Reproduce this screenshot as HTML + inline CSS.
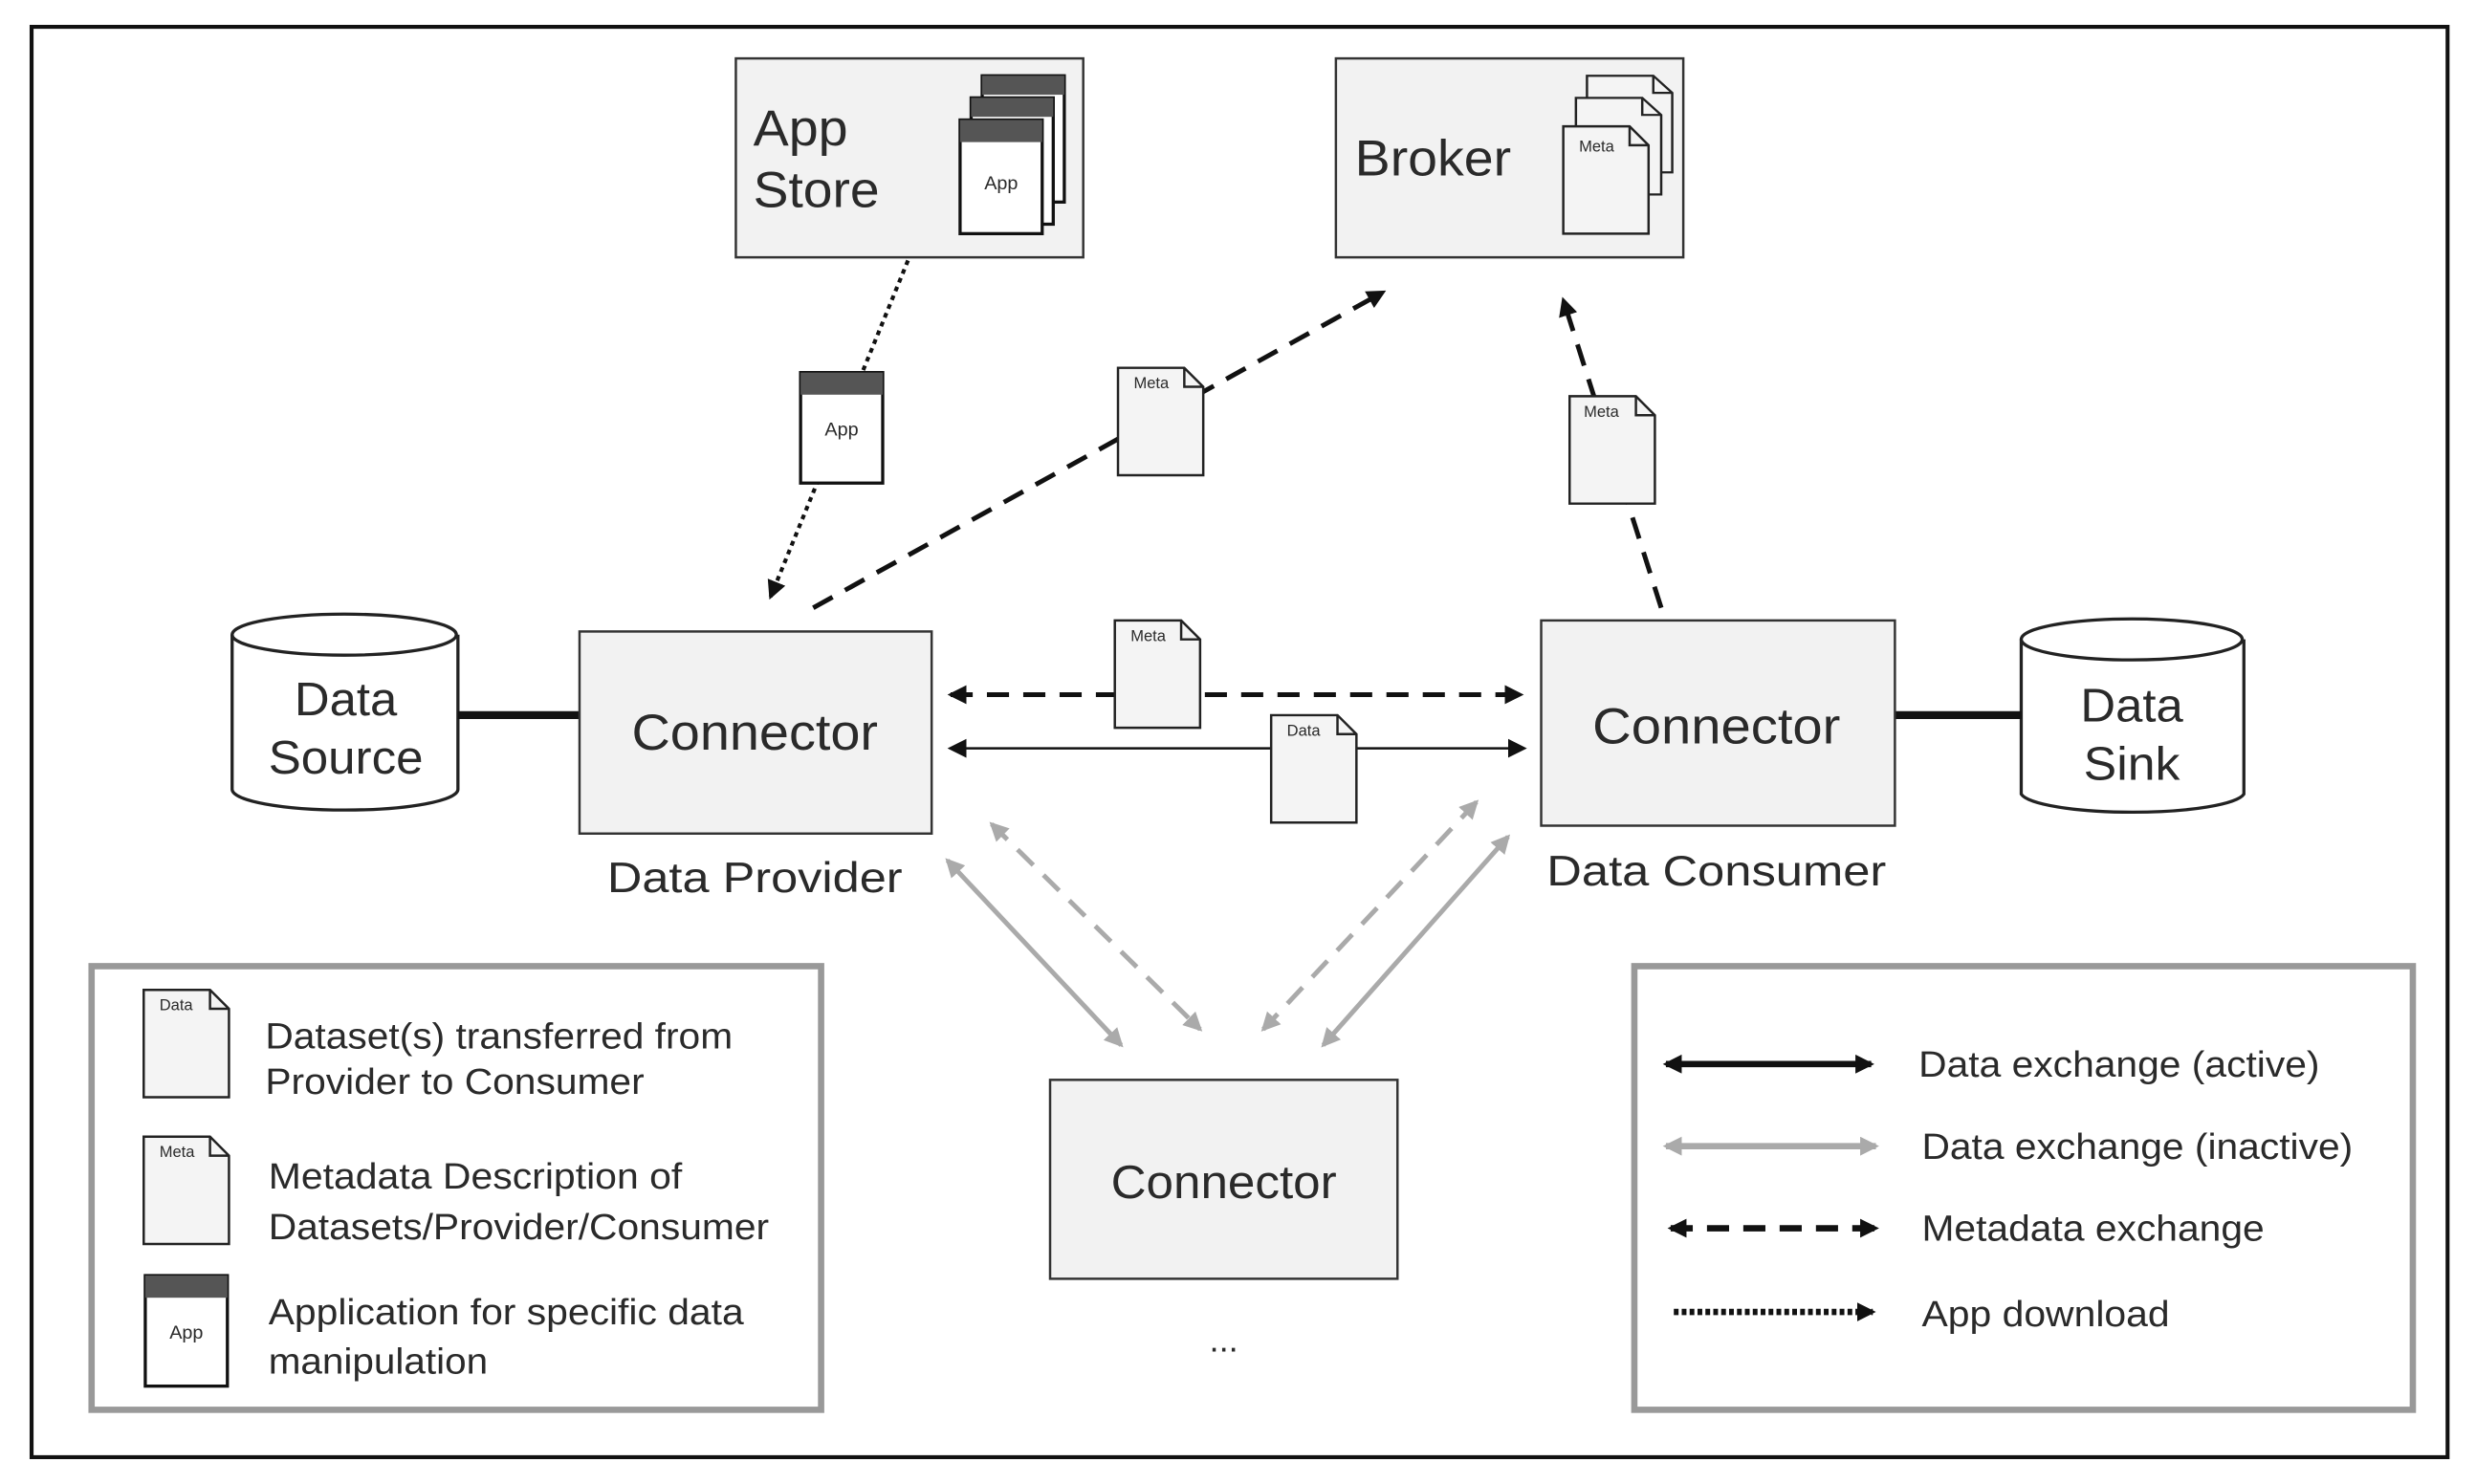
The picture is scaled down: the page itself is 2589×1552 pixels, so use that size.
<!DOCTYPE html>
<html><head><meta charset="utf-8"><style>
html,body{margin:0;padding:0;background:#fff}
svg{display:block}
text{font-family:"Liberation Sans",sans-serif;fill:#2a2a2a}
</style></head><body>
<svg width="2589" height="1552" viewBox="0 0 1568 940" preserveAspectRatio="none" xmlns="http://www.w3.org/2000/svg">
<defs>
<marker id="ag" markerWidth="14" markerHeight="14" refX="10" refY="6" orient="auto-start-reverse" markerUnits="userSpaceOnUse"><path d="M0,0 L12,6 L0,12 z" fill="#aaa"/></marker>
<marker id="ak" markerWidth="14" markerHeight="14" refX="10" refY="6" orient="auto-start-reverse" markerUnits="userSpaceOnUse"><path d="M0,0 L12,6 L0,12 z" fill="#111"/></marker>
<g id="doc"><path d="M0,0 H42 L54,12 V68 H0 Z" fill="#f4f4f4" stroke="#222" stroke-width="1.5"/><path d="M42,0 V12 H54" fill="none" stroke="#222" stroke-width="1.5"/></g>
<g id="app"><rect x="0" y="0" width="52" height="70" fill="#fff" stroke="#111" stroke-width="2"/><rect x="0" y="0" width="52" height="14" fill="#555"/><text x="26" y="40" font-size="12" text-anchor="middle">App</text></g>
</defs>
<rect x="20" y="17" width="1530" height="906" fill="#fff" stroke="#111" stroke-width="2.5"/>

<!-- App Store -->
<rect x="466" y="37" width="220" height="126" fill="#f2f2f2" stroke="#333" stroke-width="1.5"/>
<text x="477" y="92" font-size="32" textLength="60" lengthAdjust="spacingAndGlyphs">App</text><text x="477" y="131" font-size="32" textLength="80" lengthAdjust="spacingAndGlyphs">Store</text>
<rect x="622" y="48" width="52" height="80" fill="#fff" stroke="#111" stroke-width="2"/><rect x="622" y="48" width="52" height="12" fill="#555"/>
<rect x="615" y="62" width="52" height="80" fill="#fff" stroke="#111" stroke-width="2"/><rect x="615" y="62" width="52" height="12" fill="#555"/>
<rect x="608" y="76" width="52" height="72" fill="#fff" stroke="#111" stroke-width="2"/><rect x="608" y="76" width="52" height="14" fill="#555"/>
<text x="634" y="120" font-size="12" text-anchor="middle">App</text>

<!-- Broker -->
<rect x="846" y="37" width="220" height="126" fill="#f2f2f2" stroke="#333" stroke-width="1.5"/>
<text x="858" y="111" font-size="32" textLength="99" lengthAdjust="spacingAndGlyphs">Broker</text>
<use href="#doc" transform="translate(1005,48) scale(1,0.9)"/>
<use href="#doc" transform="translate(998,62) scale(1,0.9)"/>
<use href="#doc" transform="translate(990,80) scale(1,1)"/>
<text x="1000" y="96" font-size="10">Meta</text>

<!-- Cylinders -->
<g fill="#fff" stroke="#222" stroke-width="2">
<path d="M147,402 V500 A71,13 0 0 0 290,500 V402"/><ellipse cx="218" cy="402" rx="71" ry="13"/>
<path d="M1280,405 V503 A71,13 0 0 0 1421,503 V405"/><ellipse cx="1350" cy="405" rx="70" ry="13"/>
</g>
<text x="219" y="453" font-size="30" text-anchor="middle" textLength="65" lengthAdjust="spacingAndGlyphs">Data</text><text x="219" y="490" font-size="30" text-anchor="middle" textLength="98" lengthAdjust="spacingAndGlyphs">Source</text>
<text x="1350" y="457" font-size="30" text-anchor="middle" textLength="65" lengthAdjust="spacingAndGlyphs">Data</text><text x="1350" y="494" font-size="30" text-anchor="middle" textLength="61" lengthAdjust="spacingAndGlyphs">Sink</text>
<line x1="290" y1="453" x2="367" y2="453" stroke="#111" stroke-width="5"/>
<line x1="1200" y1="453" x2="1280" y2="453" stroke="#111" stroke-width="5"/>

<!-- Connectors -->
<rect x="367" y="400" width="223" height="128" fill="#f2f2f2" stroke="#333" stroke-width="1.5"/>
<text x="478" y="475" font-size="32" text-anchor="middle" textLength="156" lengthAdjust="spacingAndGlyphs">Connector</text>
<text x="478" y="565" font-size="27" text-anchor="middle" textLength="187" lengthAdjust="spacingAndGlyphs">Data Provider</text>
<rect x="976" y="393" width="224" height="130" fill="#f2f2f2" stroke="#333" stroke-width="1.5"/>
<text x="1087" y="471" font-size="32" text-anchor="middle" textLength="157" lengthAdjust="spacingAndGlyphs">Connector</text>
<text x="1087" y="561" font-size="27" text-anchor="middle" textLength="215" lengthAdjust="spacingAndGlyphs">Data Consumer</text>
<rect x="665" y="684" width="220" height="126" fill="#f2f2f2" stroke="#333" stroke-width="1.5"/>
<text x="775" y="759" font-size="30" text-anchor="middle" textLength="143" lengthAdjust="spacingAndGlyphs">Connector</text>
<text x="775" y="856" font-size="22" text-anchor="middle">...</text>

<!-- Arrows -->
<line x1="575" y1="165" x2="488" y2="378" stroke="#111" stroke-width="2.5" stroke-dasharray="3,3" marker-end="url(#ak)"/>
<line x1="515" y1="385" x2="876" y2="185" stroke="#111" stroke-width="3" stroke-dasharray="14,9" marker-end="url(#ak)"/>
<line x1="1052" y1="385" x2="990" y2="190" stroke="#111" stroke-width="3" stroke-dasharray="14,9" marker-end="url(#ak)"/>
<line x1="602" y1="440" x2="963" y2="440" stroke="#111" stroke-width="3" stroke-dasharray="14,9" marker-start="url(#ak)" marker-end="url(#ak)"/>
<line x1="602" y1="474" x2="965" y2="474" stroke="#111" stroke-width="1.5" marker-start="url(#ak)" marker-end="url(#ak)"/>
<line x1="600" y1="545" x2="710" y2="662" stroke="#aaa" stroke-width="3" marker-start="url(#ag)" marker-end="url(#ag)"/>
<line x1="628" y1="522" x2="760" y2="652" stroke="#aaa" stroke-width="3" stroke-dasharray="14,9" marker-start="url(#ag)" marker-end="url(#ag)"/>
<line x1="955" y1="530" x2="838" y2="662" stroke="#aaa" stroke-width="3" marker-start="url(#ag)" marker-end="url(#ag)"/>
<line x1="935" y1="508" x2="800" y2="652" stroke="#aaa" stroke-width="3" stroke-dasharray="14,9" marker-start="url(#ag)" marker-end="url(#ag)"/>

<!-- floating docs -->
<use href="#app" transform="translate(507,236)"/>
<use href="#doc" transform="translate(708,233)"/><text x="718" y="246" font-size="10">Meta</text>
<use href="#doc" transform="translate(994,251)"/><text x="1003" y="264" font-size="10">Meta</text>
<use href="#doc" transform="translate(706,393)"/><text x="716" y="406" font-size="10">Meta</text>
<use href="#doc" transform="translate(805,453)"/><text x="815" y="466" font-size="10">Data</text>

<!-- Legend left -->
<rect x="58" y="612" width="462" height="281" fill="#fff" stroke="#999" stroke-width="4"/>
<use href="#doc" transform="translate(91,627)"/><text x="101" y="640" font-size="10">Data</text>
<text x="168" y="664" font-size="23" textLength="296" lengthAdjust="spacingAndGlyphs">Dataset(s) transferred from</text><text x="168" y="693" font-size="23" textLength="240" lengthAdjust="spacingAndGlyphs">Provider to Consumer</text>
<use href="#doc" transform="translate(91,720)"/><text x="101" y="733" font-size="10">Meta</text>
<text x="170" y="753" font-size="23" textLength="262" lengthAdjust="spacingAndGlyphs">Metadata Description of</text><text x="170" y="785" font-size="23" textLength="317" lengthAdjust="spacingAndGlyphs">Datasets/Provider/Consumer</text>
<use href="#app" transform="translate(92,808)"/>
<text x="170" y="839" font-size="23" textLength="301" lengthAdjust="spacingAndGlyphs">Application for specific data</text><text x="170" y="870" font-size="23" textLength="139" lengthAdjust="spacingAndGlyphs">manipulation</text>

<!-- Legend right -->
<rect x="1035" y="612" width="493" height="281" fill="#fff" stroke="#999" stroke-width="4"/>
<line x1="1055" y1="674" x2="1185" y2="674" stroke="#111" stroke-width="4" marker-start="url(#ak)" marker-end="url(#ak)"/>
<line x1="1055" y1="726" x2="1188" y2="726" stroke="#aaa" stroke-width="4" marker-start="url(#ag)" marker-end="url(#ag)"/>
<line x1="1058" y1="778" x2="1188" y2="778" stroke="#111" stroke-width="4" stroke-dasharray="14,9" marker-start="url(#ak)" marker-end="url(#ak)"/>
<line x1="1060" y1="831" x2="1186" y2="831" stroke="#111" stroke-width="4" stroke-dasharray="3,2" marker-end="url(#ak)"/>
<text x="1215" y="682" font-size="23" textLength="254" lengthAdjust="spacingAndGlyphs">Data exchange (active)</text>
<text x="1217" y="734" font-size="23" textLength="273" lengthAdjust="spacingAndGlyphs">Data exchange (inactive)</text>
<text x="1217" y="786" font-size="23" textLength="217" lengthAdjust="spacingAndGlyphs">Metadata exchange</text>
<text x="1217" y="840" font-size="23" textLength="157" lengthAdjust="spacingAndGlyphs">App download</text>
</svg>
</body></html>
